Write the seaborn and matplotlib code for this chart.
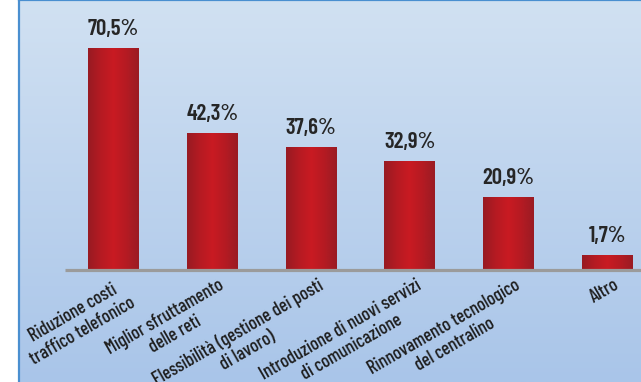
import numpy as np
import pandas as pd
import matplotlib
matplotlib.use("Agg")
import matplotlib.pyplot as plt
import seaborn as sns
from matplotlib.colors import LinearSegmentedColormap

categories = [
    "Riduzione costi\ntraffico telefonico",
    "Miglior sfruttamento\ndelle reti",
    "Flessibilità (gestione dei posti\ndi lavoro)",
    "Introduzione di nuovi servizi\ndi comunicazione",
    "Rinnovamento tecnologico\ndel centralino",
    "Altro",
]
values = [70.5, 42.3, 37.6, 32.9, 20.9, 1.7]
value_labels = ["70,5%", "42,3%", "37,6%", "32,9%", "20,9%", "1,7%"]

sns.set_theme(style="white")
plt.rcParams['font.family'] = ['Barlow Condensed', 'DejaVu Sans']

BASE = -3.0
PX = 3.01  # pixels per unit

fig = plt.figure(figsize=(6.41, 3.82), dpi=100, facecolor="white")
ax = fig.add_axes([19/641, 0, 622/641, 1])

df = pd.DataFrame({"cat": categories, "val": values})
sns.barplot(data=df, x="cat", y="val", ax=ax, width=0.516, color="#b81a22",
            saturation=1, zorder=3)

bar_cmap = LinearSegmentedColormap.from_list(
    "bar", ["#971a22", "#b51b23", "#c91a22", "#b51b23", "#9a1b23"])
bg_cmap = LinearSegmentedColormap.from_list("bg", ["#d1e1f2", "#a9c5e9"])

# background gradient
ax.imshow(np.linspace(0, 1, 256).reshape(-1, 1), extent=[0, 1, 0, 1],
          transform=ax.transAxes, aspect="auto", cmap=bg_cmap, zorder=0)

grad = np.linspace(0, 1, 256).reshape(1, -1)
for p in ax.patches:
    h = p.get_height()
    p.set_y(BASE)
    p.set_height(h - BASE)
    p.set_linewidth(0)
    x0, w = p.get_x(), p.get_width()
    im = ax.imshow(grad, extent=[x0, x0 + w, BASE, h], aspect="auto",
                   cmap=bar_cmap, zorder=3.5, interpolation="bicubic")
    im.set_clip_path(p)

ax.plot([-0.491, 6.5], [BASE - 0.4, BASE - 0.4], color="#9b9b9b", lw=2.3,
        zorder=4, solid_capstyle="butt")

for i, (v, lab) in enumerate(zip(values, value_labels)):
    ax.annotate(lab, (i, v), xytext=(0, 9.4), textcoords="offset points",
                ha="center", va="baseline", fontsize=16.5, fontweight=600,
                color="#262626", zorder=5)

for i, c in enumerate(categories):
    ax.text(i + 0.06, BASE - 7 / PX, c, rotation=30, rotation_mode="anchor",
            ha="right", va="top", multialignment="center", fontsize=13.5,
            fontweight=500, color="#1e1e1e", zorder=5, linespacing=1.15)

for s in ax.spines.values():
    s.set_visible(False)
for s in ("left", "top"):
    ax.spines[s].set_visible(True)
    ax.spines[s].set_color("#4a8fd0")
    ax.spines[s].set_linewidth(1.6)

ax.set_xlim(-0.957, 5.339)
ax.set_ylim(BASE - 113 / PX, BASE + 269 / PX)
ax.set_xticks([])
ax.set_yticks([])
ax.set_xlabel("")
ax.set_ylabel("")

fig.savefig("out.png", dpi=100, facecolor="white")
